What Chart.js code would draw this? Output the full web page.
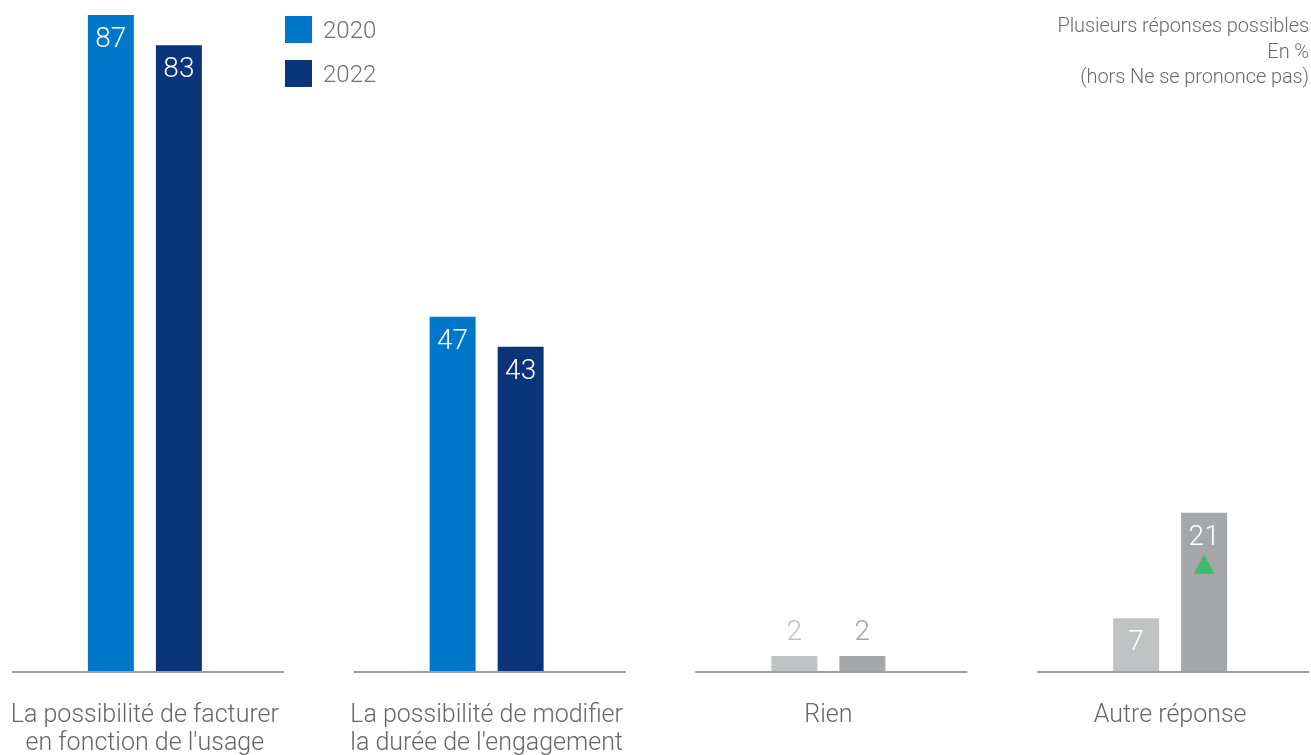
<!DOCTYPE html>
<html lang="fr">
<head>
<meta charset="utf-8">
<title>Attentes</title>
<script src="https://cdn.jsdelivr.net/npm/chart.js@4/dist/chart.umd.min.js"></script>
<style>
  html, body { margin: 0; padding: 0; background: #fff; overflow: hidden; }
  body { width: 1311px; height: 755px; position: relative; font-family: Roboto, sans-serif; font-weight: 300; }
  #wrap { position: absolute; left: -26px; top: 0; width: 1367px; height: 755px; }
  .note { position: absolute; right: 2px; top: 13px; text-align: right; color: #6b6b6b; font-size: 20px; line-height: 25.5px; letter-spacing: -0.1px; }
  .legend { position: absolute; left: 285px; top: 16px; }
  .legend div { display: flex; align-items: center; height: 27px; margin-bottom: 17px; color: #707070; font-size: 24px; }
  .legend span { display: inline-block; width: 27px; height: 27px; margin-right: 11px; }
</style>
</head>
<body>
<div id="wrap"><canvas id="chart"></canvas></div>
<div class="legend">
  <div><span id="sw2020"></span>2020</div>
  <div><span id="sw2022"></span>2022</div>
</div>
<div class="note">Plusieurs réponses possibles<br>En %<br>(hors Ne se prononce pas)</div>

<script>
const categories = [
  ['La possibilité de facturer', "en fonction de l'usage"],
  ['La possibilité de modifier', "la durée de l'engagement"],
  'Rien',
  'Autre réponse'
];
const values2020 = [87, 47, 2, 7];
const values2022 = [83, 43, 2, 21];
// hausse significative entre 2020 et 2022
const hausse2022 = [false, false, false, true];

const BLUE = '#0077c8';
const NAVY = '#0a357a';
const GREY_LIGHT = '#c1c2c4';
const GREY_DARK = '#a6a7ab';
const colors2020 = [BLUE, BLUE, GREY_LIGHT, GREY_LIGHT];
const colors2022 = [NAVY, NAVY, GREY_DARK, GREY_DARK];

document.getElementById('sw2020').style.background = BLUE;
document.getElementById('sw2022').style.background = NAVY;

// un trait de base par groupe, pas d'axe continu
const groupBaselines = {
  id: 'groupBaselines',
  beforeDatasetsDraw(chart) {
    const { ctx, chartArea, scales: { x } } = chart;
    const half = x.width / categories.length * 0.398;
    ctx.save();
    ctx.strokeStyle = '#a0a0a0';
    ctx.lineWidth = 2;
    categories.forEach((c, i) => {
      const cx = x.getPixelForValue(i) + 3;
      ctx.beginPath();
      ctx.moveTo(cx - half, chartArea.bottom + 1);
      ctx.lineTo(cx + half, chartArea.bottom + 1);
      ctx.stroke();
    });
    ctx.restore();
  }
};

const valueLabels = {
  id: 'valueLabels',
  afterDatasetsDraw(chart) {
    const { ctx } = chart;
    ctx.save();
    ctx.font = '300 28px Roboto, sans-serif';
    ctx.textAlign = 'center';
    ctx.textBaseline = 'middle';
    chart.data.datasets.forEach((ds, di) => {
      chart.getDatasetMeta(di).data.forEach((bar, i) => {
        const v = ds.data[i];
        if (v < 5) {
          ctx.fillStyle = ds.backgroundColor[i];
          ctx.fillText(v, bar.x, bar.y - 23);
        } else {
          ctx.fillStyle = '#fff';
          ctx.fillText(v, bar.x, bar.y + 25);
        }
        if (ds.hausse && ds.hausse[i]) {
          const ty = bar.y + 42;
          ctx.fillStyle = '#3dba6e';
          ctx.beginPath();
          ctx.moveTo(bar.x, ty);
          ctx.lineTo(bar.x + 10.5, ty + 19);
          ctx.lineTo(bar.x - 10.5, ty + 19);
          ctx.closePath();
          ctx.fill();
        }
      });
    });
    ctx.restore();
  }
};

new Chart(document.getElementById('chart'), {
  type: 'bar',
  data: {
    labels: categories,
    datasets: [
      { label: '2020', data: values2020, backgroundColor: colors2020 },
      { label: '2022', data: values2022, backgroundColor: colors2022, hausse: hausse2022 }
    ]
  },
  options: {
    responsive: true,
    maintainAspectRatio: false,
    animation: false,
    layout: { padding: 0 },
    categoryPercentage: 0.398,
    barPercentage: 0.676,
    plugins: { legend: { display: false }, tooltip: { enabled: false } },
    scales: {
      x: {
        grid: { display: false, drawTicks: false },
        border: { display: false },
        afterFit: s => { s.height = 84; },
        ticks: {
          padding: 31,
          color: '#666666',
          maxRotation: 0,
          autoSkip: false,
          font: { family: 'Roboto, sans-serif', size: 25, weight: '300', lineHeight: '28px' }
        }
      },
      y: { display: false, min: 0, max: 89 }
    }
  },
  plugins: [groupBaselines, valueLabels]
});
</script>
</body>
</html>
